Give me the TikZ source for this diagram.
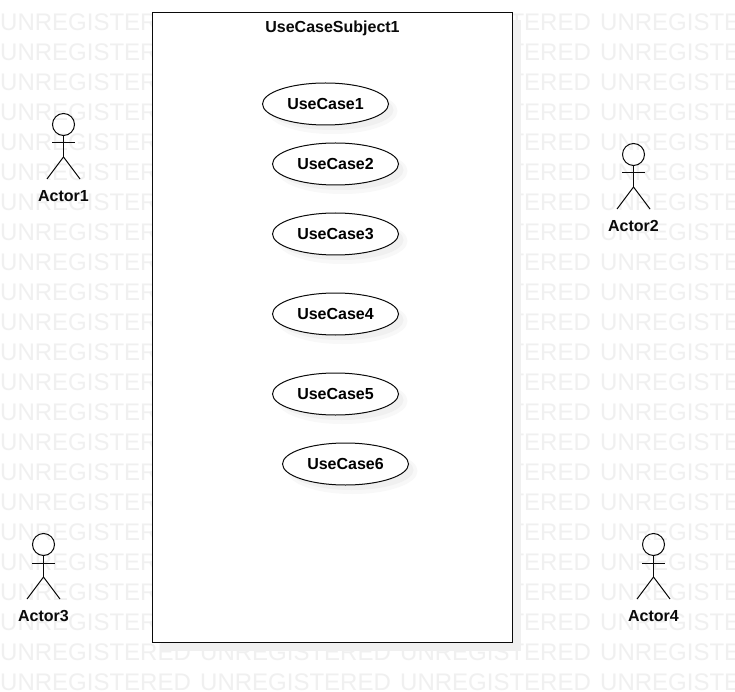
\documentclass[tikz,border=0pt]{standalone}
\usepackage{fontspec}
\setmainfont{Liberation Sans}
\usetikzlibrary{shapes.geometric}
\definecolor{wmcol}{HTML}{F0F0F0}
\definecolor{shadowcol}{HTML}{F0F0F0}
\definecolor{shadowsoft}{HTML}{F8F8F8}
\definecolor{inkcol}{HTML}{0A0A0A}
\tikzset{
  wm/.style={anchor=west,inner sep=0pt,text=wmcol,font=\fontsize{24}{25}\selectfont},
  subjectbox/.style={draw=inkcol,line width=1pt,fill=white,minimum width=360pt,minimum height=630pt,inner sep=0pt},
  boxshadow/.style={fill=shadowcol,minimum width=360pt,minimum height=630pt,inner sep=0pt},
  caseoval/.style={ellipse,draw=inkcol,line width=1pt,fill=white,minimum width=126pt,minimum height=42pt,inner sep=0pt,font=\bfseries\fontsize{16}{18}\selectfont},
  caseshadow/.style={ellipse,fill=shadowcol,minimum width=124pt,minimum height=40pt,inner sep=0pt},
  casesoft/.style={ellipse,fill=shadowsoft,minimum width=130pt,minimum height=46pt,inner sep=0pt},
  headc/.style={circle,draw=inkcol,line width=1pt,minimum size=22pt,inner sep=0pt},
  limb/.style={draw=inkcol,line width=1pt},
  lbl/.style={inner sep=0pt,font=\bfseries\fontsize{16}{18}\selectfont,text=inkcol},
  pics/actor/.style={code={
    \node[headc] (-head) at (0,0) {};
    \coordinate (-hip) at (0,32.5);
    \coordinate (-armL) at (-11.5,18.5);
    \coordinate (-armR) at (11.5,18.5);
    \coordinate (-legL) at (-16.5,54.5);
    \coordinate (-legR) at (16.5,54.5);
    \draw[limb] (-head) -- (-hip);
    \draw[limb] (-armL) -- (-armR);
    \draw[limb] (-legL) -- (-hip) -- (-legR);
    \node[lbl] (-label) at (0,71.5) {#1};
  }}
}
\begin{document}
\begin{tikzpicture}[x=1pt,y=-1pt]
\useasboundingbox (0,0) rectangle (735,692);
\fill[white] (0,0) rectangle (735,692);
\clip (0,0) rectangle (735,692);
\foreach \r in {0,...,22}{
  \foreach \c in {0,1,2,3}{
    \node[wm] (wm-\r-\c) at ({\c*200},{22+\r*30}) {UNREGISTERED};
  }
}
\node[boxshadow] (subjectshadow) at (340.5,335.5) {};
\node[subjectbox] (subject) at (332.5,327.5) {};
\node[lbl] (subjecttitle) at (332.5,28.5) {UseCaseSubject1};
\foreach \n/\x/\y in {1/325.5/104,2/335.5/164,3/335.5/234,4/335.5/314,5/335.5/394,6/345.5/464}{
  \node[casesoft] (soft\n) at ({\x+7},{\y+7}) {};
  \node[caseshadow] (shadow\n) at ({\x+6},{\y+6}) {};
  \node[caseoval] (case\n) at (\x,\y) {UseCase\n};
}
\pic (actor1) at (63.5,124.5) {actor={Actor1}};
\pic (actor2) at (633.5,154.5) {actor={Actor2}};
\pic (actor3) at (43.5,544.5) {actor={Actor3}};
\pic (actor4) at (653.5,544.5) {actor={Actor4}};
\end{tikzpicture}
\end{document}
